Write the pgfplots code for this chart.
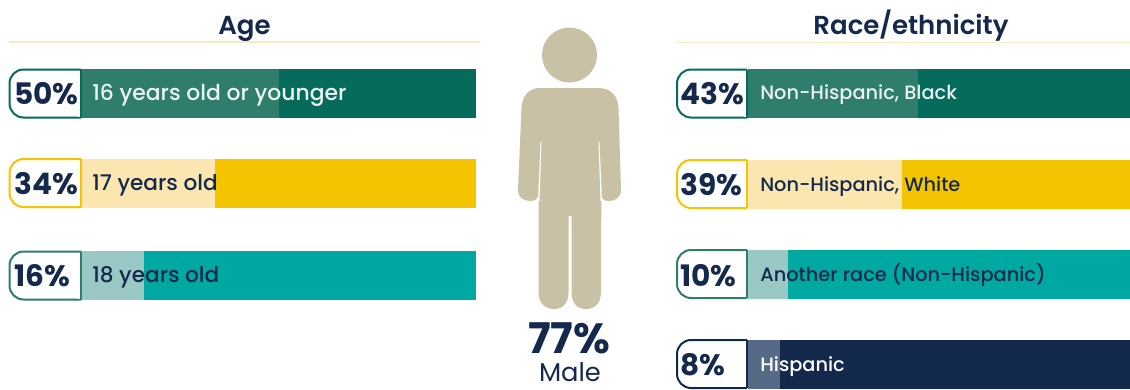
\documentclass[border=0pt]{standalone}
\usepackage{pgfplots}
\pgfplotsset{compat=1.18}
\usepackage{fontspec}
\setmainfont{Poppins}
\newfontfamily\semi{Poppins SemiBold}
\newfontfamily\med{Poppins Medium}
\definecolor{navy}{HTML}{14294C}
\definecolor{gdark}{HTML}{066B5B}
\definecolor{glight}{HTML}{2F7D6C}
\definecolor{yfull}{HTML}{F5C400}
\definecolor{ylight}{HTML}{FBE6B0}
\definecolor{tfull}{HTML}{00A8A2}
\definecolor{tlight}{HTML}{9AC8C4}
\definecolor{nfull}{HTML}{12294B}
\definecolor{nlight}{HTML}{566A87}
\definecolor{beige}{HTML}{C9C1A6}
\definecolor{rule}{HTML}{F7EDBB}
\pgfplotsset{
  barpanel/.style={
    scale only axis, axis lines=none, xbar, bar shift=0pt, bar width=36.75pt,
    height=291.75pt, ymin=0, ymax=389, y dir=reverse, xmin=0,
    anchor=south west, clip=true,
  },
  seg/.style={draw=none, fill=#1},
}
% percentage pill to the left of a bar: x0/x1 horizontal extent, y centre
\newcommand{\pill}[4]{%
  \draw[#4, line width=1.5pt, fill=white, rounded corners=10.5pt]
    (#2,#3-24) -- (#1,#3-24) -- (#1,#3+24) -- (#2,#3+24);
  \fill[white] (#2-3,#3-23) rectangle (#2+.5,#3+23);
  \draw[#4, line width=1.5pt] (#2,#3-24) -- (#2,#3+24);
}
\begin{document}
\begin{tikzpicture}[x=.75pt, y=-.75pt]
\useasboundingbox (0,0) rectangle (1130,389);
\fill[white] (0,0) rectangle (1130,389);

% Age: the 100% track first, the share above it
\begin{axis}[barpanel, at={(60.75pt,-291.75pt)}, width=296.25pt, xmax=100]
\addplot[seg=gdark]  coordinates {(100,93.5)};
\addplot[seg=glight] coordinates {(50,93.5)};
\addplot[seg=yfull]  coordinates {(100,183)};
\addplot[seg=ylight] coordinates {(34,183)};
\addplot[seg=tfull]  coordinates {(100,275.5)};
\addplot[seg=tlight] coordinates {(16,275.5)};
\end{axis}

% Race/ethnicity: the track runs off the right edge
\begin{axis}[barpanel, at={(561pt,-291.75pt)}, width=286.5pt, xmax=96.7]
\addplot[seg=gdark]  coordinates {(100,93.5)};
\addplot[seg=glight] coordinates {(43,93.5)};
\addplot[seg=yfull]  coordinates {(100,184)};
\addplot[seg=ylight] coordinates {(39,184)};
\addplot[seg=tfull]  coordinates {(100,274)};
\addplot[seg=tlight] coordinates {(10,274)};
\addplot[seg=nfull]  coordinates {(100,364)};
\addplot[seg=nlight] coordinates {(8,364)};
\end{axis}

% Section headings
\node[text=navy, inner sep=0pt, anchor=base, font=\semi\fontsize{19.5}{21}\selectfont] at (244.5,34) {Age};
\draw[rule, line width=.9pt] (9,42) -- (480,42);
\node[text=navy, inner sep=0pt, anchor=base, font=\semi\fontsize{19.5}{21}\selectfont] at (911,34) {Race/ethnicity};
\draw[rule, line width=.9pt] (677,42.5) -- (1130,42.5);

% Percent pills
\pill{9.5}{81}{93.5}{gdark}
\pill{9.5}{81}{183}{yfull}
\pill{9.5}{81}{275.5}{glight}
\pill{677}{747}{93.5}{gdark}
\pill{677}{747}{184}{yfull}
\pill{677}{747}{274}{glight}
\pill{677}{747}{364}{nfull}

\tikzset{pct/.style={text=navy, anchor=base west, inner sep=0pt, font=\bfseries\fontsize{22.2}{24}\selectfont}}
\node[pct] at (14,104) {50\%};
\node[pct] at (14,194) {34\%};
\node[pct] at (14,286) {16\%};
\node[pct] at (680,104) {43\%};
\node[pct] at (680,195) {39\%};
\node[pct] at (680,286.5) {10\%};
\node[pct] at (680,375.5) {8\%};

% Category names
\tikzset{cat/.style={anchor=base west, inner sep=0pt, font=\med\fontsize{#1}{18}\selectfont}}
\node[cat=16.4, text=white!92!gdark] at (92,100) {16 years old or younger};
\node[cat=16.2, text=navy] at (92,190.5) {17 years old};
\node[cat=16.2, text=navy] at (92,282.5) {18 years old};
\node[cat=14.5, text=white!92!gdark] at (760,99.5) {Non-Hispanic, Black};
\node[cat=14.5, text=navy] at (760,191.5) {Non-Hispanic, White};
\node[cat=14.5, text=navy] at (760,281.5) {Another race (Non-Hispanic)};
\node[cat=14.5, text=white] at (760,371.5) {Hispanic};

% Figure silhouette
\fill[beige] (569.5,55) circle [radius=27.5];
\fill[beige]
  (540,88) -- (598,88)
  .. controls (612,88) and (618,97) .. (618.5,108)
  -- (621,190) .. controls (621,198) and (614,201) .. (609,201)
  .. controls (604,201) and (602,199) .. (601,195)
  -- (599,142) -- (601.5,142) -- (601,292)
  .. controls (601,304) and (594,309) .. (586,309)
  .. controls (577,309) and (571.5,303) .. (571.5,292)
  -- (571.5,216) -- (568.5,216) -- (568.5,292)
  .. controls (568.5,303) and (563,309) .. (554,309)
  .. controls (546,309) and (538.5,304) .. (538.5,292)
  -- (538.5,195) .. controls (537,199) and (535,201) .. (530,201)
  .. controls (524,201) and (518,198) .. (518,190)
  -- (521.5,108) .. controls (522,97) and (528,88) .. (540,88) -- cycle;
\fill[white] (538,201) -- (539.5,201) -- (541.5,142) -- (540.5,142) -- cycle;
\fill[white] (599.5,142) -- (598.5,142) -- (600.5,201) -- (602,201) -- cycle;

\node[text=navy, inner sep=0pt, anchor=base, font=\bfseries\fontsize{31.7}{34}\selectfont] at (569,353) {77\%};
\node[text=navy, inner sep=0pt, anchor=base, font=\fontsize{19.3}{21}\selectfont] at (570,381) {Male};
\end{tikzpicture}
\end{document}
